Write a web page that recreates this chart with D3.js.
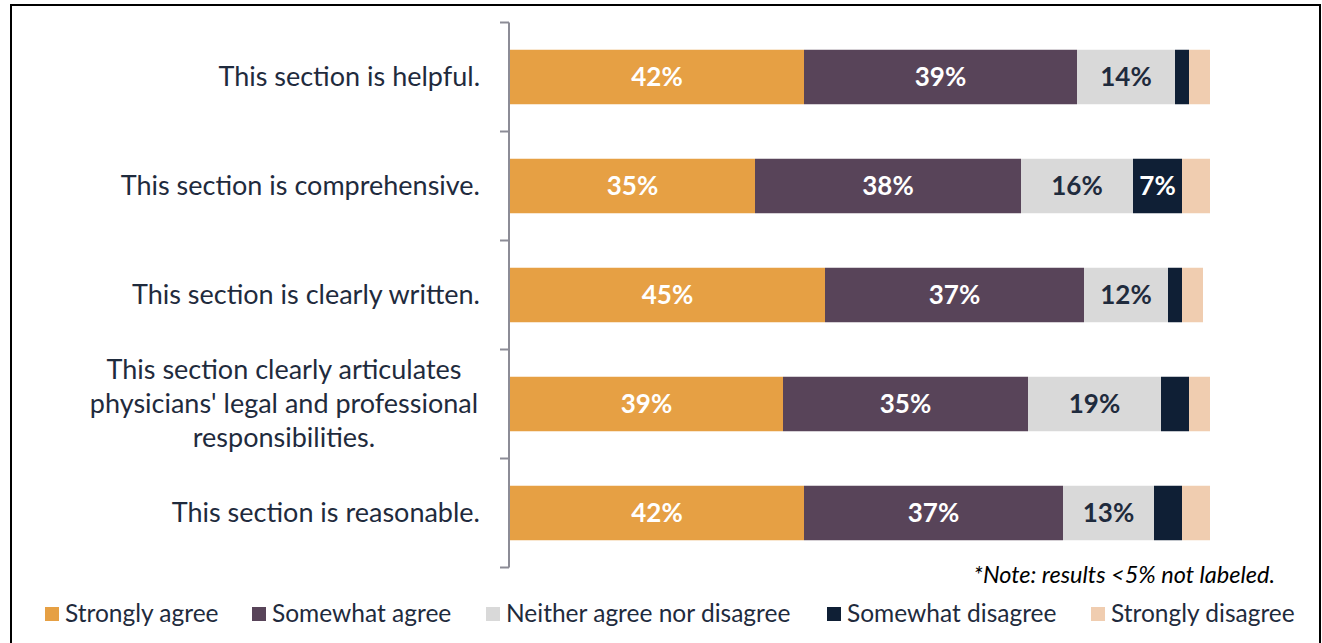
<!DOCTYPE html>
<html>
<head>
<meta charset="utf-8">
<title>Section ratings</title>
<script src="https://d3js.org/d3.v7.min.js"></script>
<style>
    body { margin: 0; background: white; }
    svg { font-family: Lato, "Open Sans", sans-serif; }
    .cat { font-size: 27px; fill: #1F2B3D; }
    .val { font-size: 26px; font-weight: bold; }
    .leg { font-size: 24.5px; fill: #1F2B3D; }
    .note { font-size: 23.5px; font-style: italic; fill: #000; }
</style>
</head>
<body>
<script>
    // data
    let statements = [
        ["This section is helpful."],
        ["This section is comprehensive."],
        ["This section is clearly written."],
        ["This section clearly articulates", "physicians' legal and professional", "responsibilities."],
        ["This section is reasonable."]
    ];
    let answers = ["Strongly agree", "Somewhat agree", "Neither agree nor disagree", "Somewhat disagree", "Strongly disagree"];
    let stronglyAgree = [42, 35, 45, 39, 42];
    let somewhatAgree = [39, 38, 37, 35, 37];
    let neither = [14, 16, 12, 19, 13];
    let somewhatDisagree = [2, 7, 2, 4, 4];
    let stronglyDisagree = [3, 4, 3, 3, 4];
    let colours = ["#E6A044", "#584459", "#D9D9D9", "#0F1F35", "#F0CDB0"];
    let textColours = ["#fff", "#fff", "#1F2B3D", "#fff", "#1F2B3D"];

    let series = [stronglyAgree, somewhatAgree, neither, somewhatDisagree, stronglyDisagree];
    let rows = statements.map(function(s, i) {
        let row = {idx: i};
        answers.forEach(function(a, j) { row[a] = series[j][i]; });
        return row;
    });
    let stacked = d3.stack().keys(answers)(rows);

    let svg = d3.select("body").append("svg").attr("width", 1322).attr("height", 643);

    // frame
    svg.append("path")
        .attr("d", "M11,643 V5 H1320 V643")
        .attr("fill", "none").attr("stroke", "#000").attr("stroke-width", 2);

    let x = d3.scaleLinear().domain([0, 100]).range([510, 1210]);
    let y = d3.scaleBand().domain(d3.range(statements.length)).range([22.5, 567.5]).paddingInner(0.5).paddingOuter(0.25);

    // axis with ticks between categories
    let axis = svg.append("g");
    axis.append("line").attr("x1", 509).attr("x2", 509).attr("y1", 22.5).attr("y2", 567.5)
        .attr("stroke", "#8C8C96").attr("stroke-width", 2);
    axis.selectAll(".tk").data(d3.range(statements.length + 1)).enter().append("line")
        .attr("x1", 500).attr("x2", 509)
        .attr("y1", function(d){ return 22.5 + d * y.step(); })
        .attr("y2", function(d){ return 22.5 + d * y.step(); })
        .attr("stroke", "#8C8C96").attr("stroke-width", 2);

    let groups = svg.selectAll(".series").data(stacked).enter().append("g")
        .attr("fill", function(d, i){ return colours[i]; });

    groups.selectAll("rect").data(function(d){ return d; }).enter().append("rect")
        .attr("x", function(d){ return x(d[0]); })
        .attr("width", function(d){ return x(d[1]) - x(d[0]); })
        .attr("y", function(d){ return y(d.data.idx); })
        .attr("height", y.bandwidth());

    groups.each(function(s, i) {
        d3.select(this).selectAll("text").data(s.filter(function(d){ return d[1] - d[0] >= 5; }))
            .enter().append("text")
            .attr("class", "val")
            .attr("fill", textColours[i])
            .attr("text-anchor", "middle")
            .attr("x", function(d){ return (x(d[0]) + x(d[1])) / 2; })
            .attr("y", function(d){ return y(d.data.idx) + y.bandwidth() / 2 + 9; })
            .text(function(d){ return (d[1] - d[0]) + "%"; });
    });

    // category labels
    statements.forEach(function(lines, i) {
        let cy = y(i) + y.bandwidth() / 2;
        let t = svg.append("text").attr("class", "cat")
            .attr("text-anchor", lines.length > 1 ? "middle" : "end");
        lines.forEach(function(l, k) {
            t.append("tspan")
                .attr("x", lines.length > 1 ? 284 : 480)
                .attr("y", cy + 9 + (k - (lines.length - 1) / 2) * 34)
                .text(l);
        });
    });

    svg.append("text").attr("class", "note").attr("text-anchor", "end")
        .attr("x", 1275).attr("y", 583)
        .text("*Note: results <5% not labeled.");

    // legend
    let legX = [45, 252, 486, 827, 1091];
    let leg = svg.selectAll(".leg-item").data(answers).enter().append("g")
        .attr("transform", function(d, i){ return "translate(" + legX[i] + ",0)"; });
    leg.append("rect").attr("x", 0).attr("y", 607).attr("width", 14).attr("height", 14)
        .attr("fill", function(d, i){ return colours[i]; });
    leg.append("text").attr("class", "leg").attr("x", 20).attr("y", 622).text(function(d){ return d; });
</script>
</body>
</html>
